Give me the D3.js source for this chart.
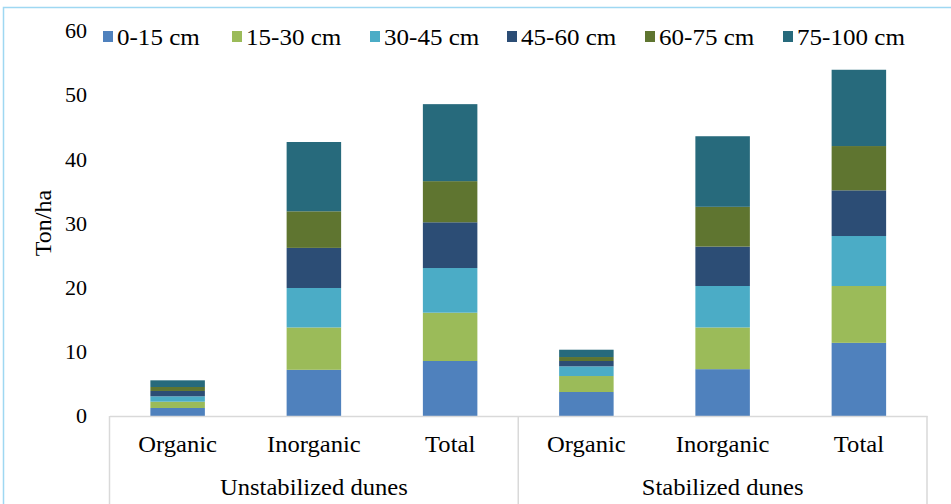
<!DOCTYPE html>
<html>
<head>
<meta charset="utf-8">
<script src="https://cdn.jsdelivr.net/npm/d3@7"></script>
<style>
  html, body { margin: 0; padding: 0; background: #fff; }
  svg { display: block; }
  text { font-family: "Liberation Serif", "Times New Roman", serif; fill: #000; }
</style>
</head>
<body>
<svg id="chart" width="951" height="504"></svg>
<script>
// Soil carbon stock by depth layer (Ton/ha)
const groups = ["Unstabilized dunes", "Stabilized dunes"];
const categories = ["Organic", "Inorganic", "Total"];
const depths = ["0-15 cm", "15-30 cm", "30-45 cm", "45-60 cm", "60-75 cm", "75-100 cm"];
const colors = ["#4f81bd", "#9bbb59", "#4bacc6", "#2c4d75", "#5f7530", "#276a7c"];
const yTicks = [0, 10, 20, 30, 40, 50, 60];

// one value per bar: Unstabilized (Organic, Inorganic, Total), Stabilized (Organic, Inorganic, Total)
const d0_15   = [1.25, 7.2, 8.57, 3.74, 7.3, 11.4];
const d15_30  = [0.98, 6.6, 7.53, 2.49, 6.5, 8.86];
const d30_45  = [0.84, 6.15, 6.96, 1.51, 6.46, 7.79];
const d45_60  = [0.83, 6.25, 7.13, 0.83, 6.14, 7.12];
const d60_75  = [0.62, 5.7, 6.41, 0.62, 6.2, 6.9];
const d75_100 = [1.04, 10.8, 12.0, 1.14, 11.0, 11.89];

const layers = [d0_15, d15_30, d30_45, d45_60, d60_75, d75_100];

const rows = [];
groups.forEach((g, gi) => categories.forEach((c, ci) => {
  const i = gi * categories.length + ci;
  const row = { key: i, group: g, cat: c };
  depths.forEach((d, di) => { row[d] = layers[di][i]; });
  rows.push(row);
}));

const svg = d3.select("#chart");
const plotL = 109.5, plotR = 927, plotT = 31, plotB = 416;
const FONT = 23;     // label size
const WIDE = 1.07;   // slight horizontal stretch of the serif labels

const x = d3.scaleBand()
  .domain(rows.map(r => r.key))
  .range([plotL, plotR])
  .paddingInner(0.6)
  .paddingOuter(0.3);

const y = d3.scaleLinear().domain([0, 60]).range([plotB, plotT]);

// outer frame
svg.append("path")
  .attr("d", "M3.5,504 L3.5,7.5 L951,7.5")
  .attr("fill", "none")
  .attr("stroke", "#9fd8f2")
  .attr("stroke-width", 1.5);

// stacked bars
const stack = d3.stack().keys(depths)(rows);
svg.append("g").selectAll("g")
  .data(stack)
  .join("g")
    .attr("fill", (d, i) => colors[i])
  .selectAll("rect")
  .data(d => d)
  .join("rect")
    .attr("x", d => x(d.data.key))
    .attr("width", x.bandwidth())
    .attr("y", d => y(d[1]))
    .attr("height", d => y(d[0]) - y(d[1]));

// value axis
const yAxis = svg.append("g")
  .attr("transform", "translate(87,0)")
  .call(d3.axisLeft(y).tickValues(yTicks).tickSize(0).tickPadding(0));
yAxis.select(".domain").remove();
yAxis.selectAll("text")
  .style("font-family", "'Liberation Serif', serif")
  .style("font-size", "21px")
  .attr("fill", "#000")
  .attr("transform", "scale(1.05,1)");

svg.append("text")
  .attr("transform", `translate(51,${223}) rotate(-90)`)
  .attr("text-anchor", "middle")
  .style("font-size", "24px")
  .text("Ton/ha");

// category axis
const xAxis = svg.append("g")
  .attr("transform", `translate(0,${plotB})`)
  .call(d3.axisBottom(x).tickSize(0).tickPadding(20).tickFormat(k => rows[k].cat));
xAxis.select(".domain").attr("stroke", "#d9d9d9").attr("stroke-width", 1.5);
xAxis.selectAll("text")
  .style("font-family", "'Liberation Serif', serif")
  .style("font-size", FONT + "px")
  .attr("fill", "#000")
  .attr("transform", `scale(${WIDE},1)`);

// group separators and labels
const groupW = (plotR - plotL) / groups.length;
svg.append("g").selectAll("line")
  .data(d3.range(groups.length + 1))
  .join("line")
    .attr("x1", i => plotL + i * groupW)
    .attr("x2", i => plotL + i * groupW)
    .attr("y1", plotB)
    .attr("y2", 504)
    .attr("stroke", "#d9d9d9")
    .attr("stroke-width", 1.5);

svg.append("g").selectAll("text")
  .data(groups)
  .join("text")
    .attr("transform", (g, i) => `translate(${plotL + (i + 0.5) * groupW},495) scale(${WIDE},1)`)
    .attr("text-anchor", "middle")
    .style("font-size", FONT + "px")
    .text(g => g);

// legend
const legendX = [103, 232, 370, 507, 645, 783];
const legend = svg.append("g").selectAll("g")
  .data(depths)
  .join("g")
    .attr("transform", (d, i) => `translate(${legendX[i]},31)`);
legend.append("rect")
  .attr("width", 10).attr("height", 11)
  .attr("fill", (d, i) => colors[i]);
legend.append("text")
  .attr("transform", "translate(14,14) scale(1.09,1)")
  .style("font-size", FONT + "px")
  .text(d => d);
</script>
</body>
</html>
